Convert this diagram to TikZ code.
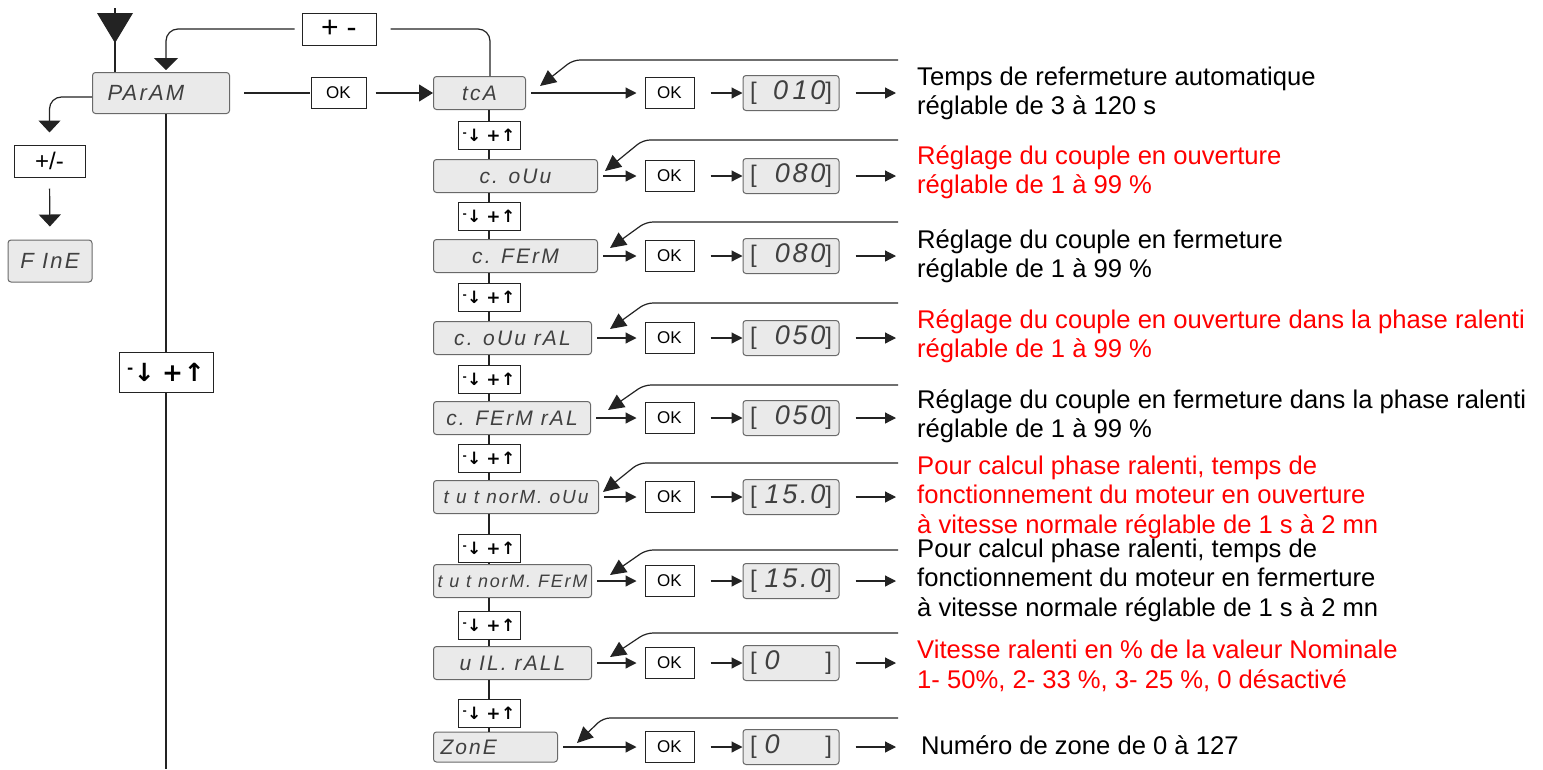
\documentclass[tikz,border=0pt]{standalone}
\usepackage{graphicx}
\usepackage{fontspec}
\setmainfont{Liberation Sans}
\newfontfamily\symfont{DejaVu Sans}
\newfontfamily\dispfont[LetterSpace=10]{Liberation Sans}
\usetikzlibrary{arrows.meta,calc}
\definecolor{dred}{RGB}{255,0,0}
\definecolor{dispfill}{RGB}{234,234,234}
\definecolor{displine}{RGB}{105,105,105}
\definecolor{ln}{RGB}{35,35,35}
\newcommand{\stepsym}{\raisebox{0.3em}{\scalebox{0.6}{-}}\kern0.02em↓\hspace{0.3em}+\kern0.03em↑}
\newcommand{\digs}[1]{{\fontsize{27}{27}\selectfont #1}}
\tikzset{
  disp/.style={draw=displine, fill=dispfill, rounded corners=3pt, line width=1pt,
    minimum height=33pt, inner sep=0pt,
    font=\dispfont\itshape\fontsize{21}{21}\selectfont, text=black!75},
  okbox/.style={draw=ln, line width=1pt, minimum width=49pt, minimum height=31pt,
    inner sep=0pt, font=\fontsize{17}{17}\selectfont},
  valbox/.style={disp, minimum width=96pt, minimum height=35pt,
    font=\dispfont\itshape\fontsize{24}{24}\selectfont},
  stepbox/.style={draw=ln, line width=1pt, minimum width=62pt, minimum height=28pt,
    inner sep=0pt, font=\symfont\bfseries\fontsize{17}{17}\selectfont},
  conn/.style={draw=ln, line width=1.2pt},
  arr/.style={conn, -{Triangle[length=11pt,width=11pt]}},
  bigarr/.style={conn, -{Triangle[length=12pt,width=22pt]}},
  retarr/.style={conn, rounded corners=7pt, -{Triangle[length=16pt,width=15pt]}},
  desc/.style={anchor=west, align=left, inner sep=0pt, font=\fontsize{25.6}{29.5}\selectfont},
}
\begin{document}
\begin{tikzpicture}[x=1pt,y=-1pt]
\useasboundingbox (0,0) rectangle (1543,769);
\fill[white] (0,0) rectangle (1543,769);

% ---- left part
\node[disp, anchor=west, minimum width=137pt, minimum height=41pt, text width=107pt,
      inner xsep=15pt, align=left, font=\dispfont\itshape\fontsize{22}{22}\selectfont] (param) at (92,93) {PArAM};
\coordinate (topin) at (115,8);
\draw[conn] (topin) -- (topin |- param.north);
\fill[ln] (97,13) -- (133,13) -- (115,43) -- cycle;

\node[draw=ln, line width=1pt, minimum width=74pt, minimum height=32pt, inner sep=0pt,
      font=\fontsize{30}{30}\selectfont] (pmtop) at (339,29) {+\hspace{8pt}-};
\node[draw=ln, line width=1pt, minimum width=71pt, minimum height=32pt, inner sep=0pt,
      font=\fontsize{24}{24}\selectfont] (pmleft) at (49.5,161) {+/-};
\node[disp, minimum width=84pt, minimum height=42pt,
      font=\dispfont\itshape\fontsize{22}{22}\selectfont] (fine) at (50,261) {F InE};
\node[stepbox, minimum width=94pt, minimum height=40pt,
      font=\symfont\bfseries\fontsize{25}{25}\selectfont] (bigstep) at (166,372) {\stepsym};
\node[okbox, minimum width=55pt] (ok0) at (338.5,93) {OK};
\coordinate (colx) at (490,0);
\coordinate (ptip) at (166,70);
\coordinate (bot) at (166,769);

% ---- parameter column
\node[disp, anchor=west, minimum width=92pt] (b1) at (433,93) {tcA};
\node[disp, anchor=west, minimum width=164pt] (b2) at (433,176) {c. oUu};
\node[disp, anchor=west, minimum width=164pt] (b3) at (433,256) {c. FErM};
\node[disp, anchor=west, minimum width=158pt] (b4) at (433,338) {c. oUu rAL};
\node[disp, anchor=west, minimum width=157pt] (b5) at (433,418) {c. FErM rAL};
\node[disp, anchor=west, minimum width=165pt, font=\dispfont\itshape\fontsize{19}{19}\selectfont] (b6) at (433,497) {t u t norM. oUu};
\node[disp, anchor=west, minimum width=158pt, font=\dispfont\itshape\fontsize{18}{18}\selectfont] (b7) at (433,581) {t u t norM. FErM};
\node[disp, anchor=west, minimum width=158pt] (b8) at (433,663) {u IL. rALL};
\node[disp, anchor=west, minimum width=124pt, minimum height=30pt, text width=110pt,
      inner xsep=7pt, align=left] (b9) at (433,747) {ZonE};

\foreach \i/\y in {1/135,2/216,3/297,4/379,5/458,6/548,7/625,8/713}{
  \node[stepbox] (s\i) at (489,\y) {\stepsym};
}
\foreach \i/\j in {1/2,2/3,3/4,4/5,5/6,6/7,7/8,8/9}{
  \draw[conn] (b\i.south -| s\i.north) -- (s\i.north);
  \draw[conn] (s\i.south) -- (b\j.north -| s\i.south);
}

% ---- OK boxes, values, arrows
\foreach \i/\y/\val in {
  1/93/{\upshape[}\hfill\digs{0\,10}{\upshape]},
  2/176/{\upshape[}\hfill\digs{080}{\upshape]},
  3/256/{\upshape[}\hfill\digs{080}{\upshape]},
  4/338/{\upshape[}\hfill\digs{050}{\upshape]},
  5/418/{\upshape[}\hfill\digs{050}{\upshape]},
  6/497/{\upshape[}\hfill\digs{15.0}{\upshape]},
  7/581/{\upshape[}\hfill\digs{15.0}{\upshape]},
  8/663/{\upshape[}\hspace{8pt}\digs{0}\hfill{\upshape]},
  9/747/{\upshape[}\hspace{8pt}\digs{0}\hfill{\upshape]}}{
  \node[okbox] (k\i) at (669.5,\y) {OK};
  \node[valbox] (v\i) at (791,\y) {\makebox[82pt]{\val}};
  \coordinate (e\i) at (896,\y);
  \draw[arr, shorten <=5pt, shorten >=8pt] (b\i.east) -- (k\i.west);
  \draw[arr, shorten <=16pt] (k\i.east) -- (v\i.west);
  \draw[arr, shorten <=16pt] (v\i.east) -- (e\i);
}

% ---- return arrows
\foreach \i/\hy/\bx/\tx/\ty in {1/60/573/540/86, 2/140/643/605/171, 3/222/646/610/248,
   4/303/646/610/329, 5/385/644/608/410, 6/463/639/603/492, 7/550/646/610/575,
   8/633/646/610/657, 9/718/603/577/743}{
  \coordinate (r\i) at (898,\hy);
  \coordinate (t\i) at (\tx,\ty);
  \draw[retarr] (r\i) -- (\bx,\hy) -- (t\i);
}

% ---- left connectors
\draw[conn, rounded corners=12pt] (b1.north -| colx) |- ([xshift=14pt]pmtop.east);
\draw[conn, rounded corners=12pt, -{Triangle[length=12pt,width=24pt]}]
   ([xshift=-7pt]pmtop.west) -| (ptip);
\draw[conn, shorten <=14pt, shorten >=1pt] (param.east) -- (ok0.west);
\draw[conn, -{Triangle[length=14pt,width=17pt]}, shorten <=9pt] (ok0.east) -- (b1.west);
\draw[bigarr, rounded corners=12pt] ([yshift=-4pt]param.west) -| ([yshift=12pt]pmleft.north);
\draw[bigarr, shorten <=11pt, shorten >=13pt] (pmleft.south) -- (fine.north);
\draw[conn] (param.south -| bigstep.north) -- (bigstep.north);
\draw[conn] (bigstep.south) -- (bot);

% ---- descriptions
\node[desc] (d1) at (917,93.5) {Temps de refermeture automatique\\réglable de 3 à 120 s};
\node[desc, text=dred] (d2) at (917,172) {Réglage du couple en ouverture\\réglable de 1 à 99 \%};
\node[desc] (d3) at (917,256) {Réglage du couple en fermeture\\réglable de 1 à 99 \%};
\node[desc, text=dred] (d4) at (917,336) {Réglage du couple en ouverture dans la phase ralenti\\réglable de 1 à 99 \%};
\node[desc] (d5) at (917,416) {Réglage du couple en fermeture dans la phase ralenti\\réglable de 1 à 99 \%};
\node[desc, text=dred] (d6) at (917,497) {Pour calcul phase ralenti, temps de\\fonctionnement du moteur en ouverture\\à vitesse normale réglable de 1 s à 2 mn};
\node[desc] (d7) at (917,580) {Pour calcul phase ralenti, temps de\\fonctionnement du moteur en fermerture\\à vitesse normale réglable de 1 s à 2 mn};
\node[desc, text=dred] (d8) at (917,666) {Vitesse ralenti en \% de la valeur Nominale\\1- 50\%, 2- 33 \%, 3- 25 \%, 0 désactivé};
\node[desc] (d9) at (921,745) {Numéro de zone de 0 à 127};
\end{tikzpicture}
\end{document}
